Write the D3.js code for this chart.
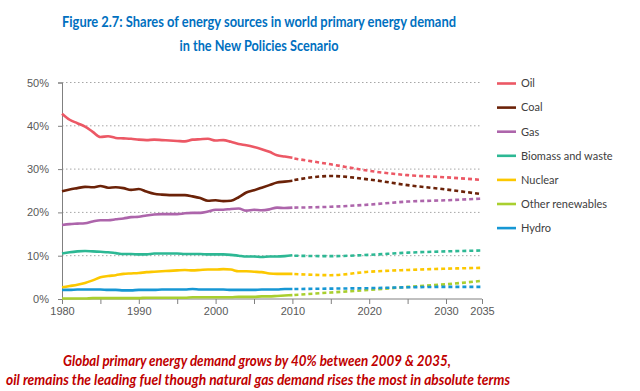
<!DOCTYPE html>
<meta charset="utf-8">
<style>
body{ margin:0; background:#fff; }
svg{ display:block; font-family:Lato, "Open Sans", sans-serif; }
.grid line{ stroke:#a6a6a6; stroke-dasharray:1.5,2.5; }
.axis text{ fill:#595959; font-size:11px; }
.legend text{ fill:#404040; font-size:11px; }
</style>
<body>
<script src="https://cdnjs.cloudflare.com/ajax/libs/d3/7.8.5/d3.min.js"></script>
<script>

var width = 640,
    height = 391;

// historical years, 1980-2010
var histYears = d3.range(1980, 2011);
// projection years (New Policies Scenario)
var projYears = [2010, 2015, 2020, 2025, 2030, 2035];

var seriesNames = ["Oil","Coal","Gas","Biomass and waste","Nuclear","Other renewables","Hydro"];
var seriesColors = ["#ec5865","#6b2208","#ad65ab","#2db894","#fcc800","#a9cf2f","#1697d4"];

var oilHist = [42.8,41.4,40.6,39.8,38.6,37.4,37.6,37.2,37.1,37.0,36.8,36.7,36.8,36.7,36.6,36.5,36.4,36.8,36.9,37.0,36.6,36.7,36.3,35.8,35.5,35.1,34.6,34.0,33.2,32.9,32.6];
var coalHist = [24.9,25.3,25.6,25.9,25.8,26.1,25.7,25.8,25.6,25.2,25.4,24.8,24.3,24.1,24.0,24.0,24.0,23.7,23.3,22.7,22.8,22.6,22.7,23.5,24.6,25.1,25.7,26.3,26.9,27.1,27.3];
var gasHist = [17.1,17.3,17.4,17.5,17.9,18.2,18.2,18.4,18.6,18.9,19.0,19.3,19.5,19.6,19.6,19.6,19.8,19.9,19.9,20.2,20.6,20.6,20.8,20.9,20.4,20.6,20.5,20.7,21.1,21.0,21.1];
var biomassHist = [10.5,10.8,11.0,11.1,11.0,10.9,10.8,10.6,10.4,10.4,10.3,10.3,10.5,10.5,10.5,10.5,10.4,10.4,10.4,10.3,10.3,10.3,10.2,10.0,9.8,9.8,9.7,9.8,9.8,9.9,10.1];
var nuclearHist = [2.7,3.0,3.3,3.7,4.3,5.0,5.3,5.5,5.8,5.9,6.0,6.2,6.3,6.4,6.5,6.6,6.7,6.6,6.7,6.8,6.8,6.9,6.8,6.4,6.4,6.3,6.2,5.9,5.8,5.8,5.8];
var renewHist = [0.1,0.1,0.1,0.1,0.2,0.2,0.2,0.2,0.2,0.2,0.2,0.3,0.3,0.3,0.3,0.3,0.3,0.4,0.4,0.4,0.4,0.4,0.4,0.5,0.5,0.5,0.6,0.6,0.7,0.8,0.9];
var hydroHist = [2.1,2.1,2.2,2.2,2.2,2.2,2.1,2.1,2.0,2.0,2.1,2.1,2.1,2.2,2.2,2.2,2.2,2.3,2.2,2.2,2.2,2.2,2.1,2.1,2.1,2.1,2.2,2.2,2.2,2.3,2.3];

var oilProj = [32.5,31.1,29.6,28.6,28.1,27.5];
var coalProj = [27.4,28.4,27.6,26.3,25.3,24.2];
var gasProj = [21.1,21.3,21.8,22.5,22.8,23.2];
var biomassProj = [10.0,9.9,10.2,10.7,11.0,11.2];
var nuclearProj = [5.8,5.5,6.3,6.7,7.0,7.2];
var renewProj = [0.9,1.5,2.1,2.8,3.4,4.2];
var hydroProj = [2.3,2.4,2.5,2.7,2.8,2.8];

var yTicks = [0,10,20,30,40,50];
var xTickLabels = [1980,1990,2000,2010,2020,2030,2035];
var xTicks = [1980,1985,1990,1995,2000,2005,2010,2015,2020,2025,2030,2035];

var hist = [oilHist,coalHist,gasHist,biomassHist,nuclearHist,renewHist,hydroHist];
var proj = [oilProj,coalProj,gasProj,biomassProj,nuclearProj,renewProj,hydroProj];

var svg = d3.select("body").append("svg")
    .attr("width", width)
    .attr("height", height);

svg.append("rect").attr("width", width).attr("height", height).attr("fill", "#fff");

var x = d3.scaleLinear().domain([1980, 2030, 2035]).range([62, 446, 482]);
var y = d3.scaleLinear().domain([0, 50]).range([299, 82.5]);

// title
var title = svg.append("g")
    .attr("fill", "#0070c0")
    .attr("font-weight", "bold")
    .attr("font-size", "15px")
    .attr("text-anchor", "middle");
title.append("text").attr("x", 259).attr("y", 27)
    .attr("textLength", 394).attr("lengthAdjust", "spacingAndGlyphs")
    .text("Figure 2.7: Shares of energy sources in world primary energy demand");
title.append("text").attr("x", 259).attr("y", 51)
    .attr("textLength", 159).attr("lengthAdjust", "spacingAndGlyphs")
    .text("in the New Policies Scenario");

// gridlines
svg.append("g").attr("class", "grid")
    .selectAll("line")
    .data(yTicks.slice(1))
    .enter().append("line")
    .attr("x1", x(1980)).attr("x2", x(2035))
    .attr("y1", function(d){ return y(d); })
    .attr("y2", function(d){ return y(d); });

// axes
var yAxis = svg.append("g").attr("class", "axis")
    .attr("transform", "translate(" + x(1980) + ",0)")
    .call(d3.axisLeft(y).tickValues(yTicks).tickSize(4).tickFormat(function(d){ return d + "%"; }));
yAxis.select(".domain").attr("stroke", "#808080");
yAxis.selectAll(".tick line").attr("stroke", "#808080");
yAxis.selectAll(".tick text").attr("x", -13);

var xAxis = svg.append("g").attr("class", "axis")
    .attr("transform", "translate(0," + y(0) + ")")
    .call(d3.axisBottom(x).tickValues(xTicks).tickSize(5).tickFormat(function(d){
        return xTickLabels.indexOf(d) >= 0 ? d : "";
    }));
xAxis.select(".domain").attr("stroke", "#808080").attr("d", "M" + x(1980) + ",0H" + x(2035));
xAxis.selectAll(".tick line").attr("stroke", "#808080");
xAxis.selectAll(".tick text").attr("y", 8);

// lines
var lineHist = d3.line()
    .x(function(d, i){ return x(histYears[i]); })
    .y(function(d){ return y(d); })
    .curve(d3.curveMonotoneX);
var lineProj = d3.line()
    .x(function(d, i){ return x(projYears[i]); })
    .y(function(d){ return y(d); })
    .curve(d3.curveMonotoneX);

var order = [5,6,4,3,2,1,0];
var lines = svg.append("g").attr("fill", "none").attr("stroke-width", 2.6);
order.forEach(function(k){
    lines.append("path")
        .attr("d", lineHist(hist[k]))
        .attr("stroke", seriesColors[k]);
    lines.append("path")
        .attr("d", lineProj(proj[k]))
        .attr("stroke", seriesColors[k])
        .attr("stroke-dasharray", "4,3")
        .attr("stroke-dashoffset", 5);
});

// legend
var legend = svg.append("g").attr("class", "legend")
    .selectAll("g")
    .data(seriesNames)
    .enter().append("g")
    .attr("transform", function(d, i){ return "translate(497," + (83.5 + i * 24.1) + ")"; });
legend.append("line")
    .attr("x1", 0).attr("x2", 19)
    .attr("stroke-width", 2.6)
    .attr("stroke", function(d, i){ return seriesColors[i]; });
legend.append("text")
    .attr("x", 24).attr("dy", "0.35em")
    .text(function(d){ return d; });

// caption
var caption = svg.append("g")
    .attr("fill", "#c00000")
    .attr("font-weight", "bold")
    .attr("font-style", "italic")
    .attr("font-size", "15px")
    .attr("text-anchor", "middle");
caption.append("text").attr("x", 257).attr("y", 366)
    .attr("textLength", 388).attr("lengthAdjust", "spacingAndGlyphs")
    .text("Global primary energy demand grows by 40% between 2009 & 2035,");
caption.append("text").attr("x", 258).attr("y", 385)
    .attr("textLength", 504).attr("lengthAdjust", "spacingAndGlyphs")
    .text("oil remains the leading fuel though natural gas demand rises the most in absolute terms");

</script>
